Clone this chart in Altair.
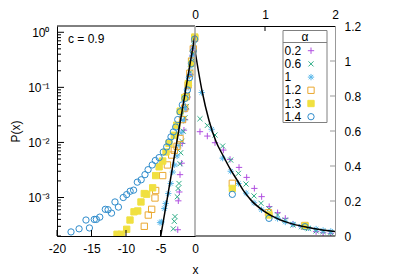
import altair as alt
import pandas as pd

FONT = "Liberation Sans"
W_L, W_R, H = 138, 140, 210
W = W_L + W_R

ALPHAS = ["0.2", "0.6", "1", "1.2", "1.3", "1.4"]
COLORS = ["#b050e0", "#30ae88", "#5ab8ea", "#eaa830", "#f0e040", "#2f8ccc"]
FILLS = ["transparent", "transparent", "transparent", "transparent", "#f0e040", "transparent"]
PLUS = "M-1,0L1,0M0,-1L0,1"
CROSS = "M-0.8,-0.8L0.8,0.8M-0.8,0.8L0.8,-0.8"
STAR = "M-1,0L1,0M0,-1L0,1M-0.7,-0.7L0.7,0.7M-0.7,0.7L0.7,-0.7"
SHAPES = [PLUS, CROSS, STAR, "square", "square", "circle"]

# ---- left panel (x < 0, log scale) ----
L02_x = [-0.03, -0.1, -0.2, -0.35, -0.5, -0.7, -0.9, -1.1, -1.3, -1.45, -1.6, -1.85, -1.93, -2.17, -2.27, -2.42, -2.5]
L02_p = [0.82, 0.68, 0.52, 0.38, 0.27, 0.17, 0.105, 0.065, 0.04, 0.026, 0.0167, 0.0096, 0.0042, 0.0026, 0.00126, 0.00087, 0.00026]
L06_x = [-0.05, -0.15, -0.3, -0.45, -0.65, -0.85, -1.05, -1.25, -1.45, -1.7, -1.9, -2.07, -2.17, -2.32, -2.45, -2.57, -2.9, -3.0, -3.14]
L06_p = [0.78, 0.6, 0.42, 0.3, 0.19, 0.12, 0.075, 0.045, 0.028, 0.016, 0.0105, 0.0065, 0.0041, 0.0018, 0.00146, 0.00103, 0.00045, 0.00037, 0.00027]
L10_x = [-0.05, -0.2, -0.4, -0.6, -0.8, -1.0, -1.2, -1.45, -1.7, -2.0, -2.3, -2.6, -2.95, -3.23, -3.52, -3.87, -4.25, -4.45, -4.83, -5.07]
L10_p = [0.8, 0.55, 0.36, 0.24, 0.16, 0.1, 0.065, 0.04, 0.025, 0.015, 0.0088, 0.0057, 0.0039, 0.0029, 0.0018, 0.00118, 0.00078, 0.00063, 0.00036, 0.00035]
L12_x = [-0.05, -0.25, -0.5, -0.75, -1.0, -1.25, -1.5, -1.8, -2.17, -2.6, -3.0, -3.38, -4.0, -4.68, -5.7, -5.8, -6.28, -6.77, -7.35]
L12_p = [0.78, 0.5, 0.3, 0.18, 0.11, 0.068, 0.042, 0.026, 0.0118, 0.0085, 0.0072, 0.0059, 0.0039, 0.0025, 0.00134, 0.00098, 0.00061, 0.00048, 0.0003]
L13_x = [-0.03, -0.48, -0.97, -1.5, -2.15, -2.65, -3.0, -3.77, -4.2, -4.68, -5.2, -5.7, -6.14, -7.0, -7.35, -7.83, -8.3, -8.84, -9.42, -9.9, -10.7, -11.3]
L13_p = [0.82, 0.27, 0.117, 0.065, 0.037, 0.0206, 0.0135, 0.0096, 0.0067, 0.0046, 0.0036, 0.0025, 0.0015, 0.00115, 0.00118, 0.00083, 0.00057, 0.00055, 0.00039, 0.000265, 0.000215, 0.000215]
L14_x = [-0.05, -0.25, -0.5, -0.8, -1.1, -1.45, -1.84, -2.17, -2.5, -2.8, -3.14, -3.48, -3.77, -4.1, -4.6, -5.2, -5.75, -6.2, -6.8, -7.25, -7.8, -8.36, -8.9, -9.4, -9.9, -10.4, -11.1, -11.6, -12.1, -12.6, -13.0, -13.8, -14.3, -14.6, -15.3, -15.8, -16.8, -17.97]
L14_p = [0.75, 0.45, 0.27, 0.15, 0.09, 0.063, 0.048, 0.036, 0.026, 0.019, 0.0155, 0.0126, 0.0102, 0.0083, 0.0067, 0.0053, 0.0047, 0.0039, 0.0032, 0.0026, 0.0021, 0.0019, 0.00136, 0.0013, 0.00113, 0.001, 0.00067, 0.00083, 0.00052, 0.0006, 0.00061, 0.00044, 0.0004, 0.0004, 0.00028, 0.00039, 0.00027, 0.000237]

TH_L_x = [0, -1, -2, -3, -4, -5.1]
TH_L_p = [0.9, 0.165, 0.030, 0.0055, 0.0010, 0.00016]

# ---- right panel (x > 0, linear scale) ----
R02_x = [0.071, 0.176, 0.286, 0.405, 0.5, 0.629, 0.738, 0.848, 0.952, 1.06, 1.18, 1.29, 1.40, 1.52, 1.62, 1.73, 1.83, 1.94]
R02_p = [0.596, 0.571, 0.533, 0.491, 0.438, 0.392, 0.335, 0.272, 0.225, 0.168, 0.133, 0.101, 0.067, 0.053, 0.047, 0.025, 0.019, 0.015]
R06_x = [0.071, 0.176, 0.286, 0.395, 0.51, 0.62, 0.729, 0.843, 0.943, 1.06, 1.18, 1.29, 1.40, 1.52, 1.62, 1.73, 1.83, 1.94]
R06_p = [0.67, 0.632, 0.577, 0.514, 0.434, 0.358, 0.297, 0.229, 0.187, 0.154, 0.12, 0.091, 0.063, 0.053, 0.042, 0.029, 0.025, 0.019]
R10_x = [0.095, 0.238, 0.395, 0.51, 0.62, 0.73, 0.843, 0.95, 1.06, 1.18, 1.29, 1.40, 1.52, 1.62, 1.73, 1.83, 1.94]
R10_p = [0.82, 0.61, 0.445, 0.37, 0.3, 0.245, 0.19, 0.15, 0.125, 0.1, 0.08, 0.068, 0.055, 0.047, 0.04, 0.032, 0.027]
R12_x = [0.533, 1.05, 1.57]
R12_p = [0.301, 0.133, 0.06]
R13_x = [0.533, 1.057, 1.571]
R13_p = [0.272, 0.12, 0.057]
R14_x = [0.533, 1.057, 1.571]
R14_p = [0.238, 0.101, 0.053]

TH_R_x = [0, 0.1, 0.2, 0.3, 0.4, 0.5, 0.6, 0.7, 0.8, 1.0, 1.2, 1.4, 1.6, 1.8, 2.0]
TH_R_p = [1.06, 0.83, 0.66, 0.54, 0.46, 0.385, 0.32, 0.255, 0.205, 0.138, 0.095, 0.068, 0.05, 0.036, 0.025]

# axis tick values
XT_L = [-20, -15, -10, -5, 0]
YT_L = [1, 0.1, 0.01, 0.001]
YT_L_MINOR = [m * 10.0 ** e for e in (-4, -3, -2, -1) for m in range(2, 10) if 2e-4 <= m * 10.0 ** e <= 1.3]
XT_R = [0, 1, 2]
YT_R = [0, 0.2, 0.4, 0.6, 0.8, 1, 1.2]
C_LABEL = "c = 0.9"
LEG_TITLE = "α"


def frame(xs_list, ps_list):
    rows = []
    for a, xs, ps in zip(ALPHAS, xs_list, ps_list):
        rows += [{"alpha": a, "x": x, "P": p} for x, p in zip(xs, ps)]
    return pd.DataFrame(rows)


left_df = frame([L02_x, L06_x, L10_x, L12_x, L13_x, L14_x], [L02_p, L06_p, L10_p, L12_p, L13_p, L14_p])
right_df = frame([R02_x, R06_x, R10_x, R12_x, R13_x, R14_x], [R02_p, R06_p, R10_p, R12_p, R13_p, R14_p])
thL = pd.DataFrame({"x": TH_L_x, "P": TH_L_p})
thR = pd.DataFrame({"x": TH_R_x, "P": TH_R_p})
one = pd.DataFrame({"k": [0]})

xL = alt.Scale(domain=[-20, 0], range=[0, W_L], nice=False, zero=False)
yL = alt.Scale(type="log", domain=[2e-4, 1.3], nice=False)
xR = alt.Scale(domain=[0, 2], range=[W_L, W], nice=False, zero=False)
yR = alt.Scale(domain=[0, 1.2], nice=False, zero=False)

sup_expr = ("datum.value > 0.5 ? '10⁰' : datum.value > 0.05 ? '10⁻¹' : "
            "datum.value > 0.005 ? '10⁻²' : '10⁻³'")

axL_x = alt.Axis(orient="bottom", values=XT_L, labelExpr="'' + datum.value", title="x",
                 titleX=W_L, titleY=37, titleBaseline="alphabetic",
                 ticks=False, domainColor="black", labelFlush=False,
                 labelPadding=7, grid=False)
axL_y = alt.Axis(orient="left", values=YT_L, labelExpr=sup_expr, title="P(x)", ticks=False,
                 domainColor="black", grid=False, labelPadding=8, titlePadding=5)
axR_x = alt.Axis(orient="top", values=XT_R, labelExpr="'' + datum.value", title=None, ticks=False,
                 domainColor="black", labelFlush=False, labelPadding=5, grid=False)
axR_y = alt.Axis(orient="right", values=YT_R, labelExpr="'' + datum.value", title=None,
                 ticks=False, domainColor="#999999", labelPadding=9, grid=False)

XL = lambda: alt.X("x:Q", scale=xL, axis=axL_x)
YL = lambda: alt.Y("P:Q", scale=yL, axis=axL_y)
XR = lambda: alt.X("x:Q", scale=xR, axis=axR_x)
YR = lambda: alt.Y("P:Q", scale=yR, axis=axR_y)

stroke_enc = alt.Stroke("alpha:N", scale=alt.Scale(domain=ALPHAS, range=COLORS), legend=None)
fill_enc = alt.Fill("alpha:N", scale=alt.Scale(domain=ALPHAS, range=FILLS), legend=None)
shape_enc = alt.Shape("alpha:N", scale=alt.Scale(domain=ALPHAS, range=SHAPES), legend=None)

# ---------------- left panel ----------------
left_pts = alt.Chart(left_df).mark_point(filled=False, size=40, strokeWidth=1, opacity=1, clip=True).encode(
    x=XL(), y=YL(), stroke=stroke_enc, fill=fill_enc, shape=shape_enc)
left_line = alt.Chart(thL).mark_line(color="black", strokeWidth=1.5, clip=True).encode(x=XL(), y=YL())
left_major = alt.Chart(pd.DataFrame({"P": YT_L})).mark_rule(color="black", strokeWidth=1).encode(
    y=YL(), x=alt.value(0), x2=alt.value(7))
left_minor = alt.Chart(pd.DataFrame({"P": YT_L_MINOR})).mark_rule(color="black", strokeWidth=1).encode(
    y=YL(), x=alt.value(0), x2=alt.value(4))
left_xt = alt.Chart(pd.DataFrame({"x": XT_L[:-1]})).mark_rule(color="black", strokeWidth=1).encode(
    x=XL(), y=alt.value(H), y2=alt.value(H - 6))
left_layer = alt.layer(left_pts, left_line, left_minor, left_major, left_xt)

# ---------------- right panel ----------------
right_pts = alt.Chart(right_df).mark_point(filled=False, size=40, strokeWidth=1, opacity=1, clip=True).encode(
    x=XR(), y=YR(), stroke=stroke_enc, fill=fill_enc, shape=shape_enc)
right_line = alt.Chart(thR).mark_line(color="black", strokeWidth=1.5, clip=True, interpolate="monotone").encode(
    x=XR(), y=YR())
right_yt = alt.Chart(pd.DataFrame({"P": YT_R[1:-1]})).mark_rule(color="#999999", strokeWidth=1).encode(
    y=YR(), x=alt.value(W - 5), x2=alt.value(W))
right_xt = alt.Chart(pd.DataFrame({"x": XT_R[1:-1]})).mark_rule(color="black", strokeWidth=1).encode(
    x=XR(), y=alt.value(0), y2=alt.value(5))
right_layer = alt.layer(right_pts, right_line, right_yt, right_xt)

# ---------------- frame, labels, legend ----------------
left_top = alt.Chart(one).mark_rule(color="black", strokeWidth=1).encode(
    x=alt.value(0), x2=alt.value(W_L), y=alt.value(0))
right_bottom = alt.Chart(one).mark_rule(color="black", strokeWidth=1).encode(
    x=alt.value(W_L), x2=alt.value(W), y=alt.value(H))
zero_line = alt.Chart(one).mark_rule(color="#a0a0a0", strokeWidth=1.5).encode(
    x=alt.value(W_L), y=alt.value(0), y2=alt.value(H))
c_text = alt.Chart(one).mark_text(align="left", baseline="middle", fontSize=12, text=C_LABEL).encode(
    x=alt.value(11), y=alt.value(13))

LX = W_L + 88
leg_df = pd.DataFrame({"alpha": ALPHAS})
leg_y = alt.Y("alpha:N", scale=alt.Scale(type="point", domain=ALPHAS, range=[24.7, 90.7], padding=0), axis=None)
leg_box = alt.Chart(one).mark_rect(fill="white", stroke="#808080", strokeWidth=1).encode(
    x=alt.value(LX), x2=alt.value(LX + 44), y=alt.value(4.5), y2=alt.value(96.5))
leg_sep = alt.Chart(one).mark_rule(color="#808080", strokeWidth=1).encode(
    x=alt.value(LX), x2=alt.value(LX + 44), y=alt.value(16.5))
leg_title = alt.Chart(one).mark_text(align="center", baseline="middle", fontSize=12, text=LEG_TITLE).encode(
    x=alt.value(LX + 22), y=alt.value(10.5))
leg_labels = alt.Chart(leg_df).mark_text(align="left", baseline="middle", fontSize=12).encode(
    text="alpha:N", x=alt.value(LX + 1.5), y=leg_y)
leg_syms = alt.Chart(leg_df).mark_point(filled=False, size=40, strokeWidth=1, opacity=1).encode(
    x=alt.value(LX + 28), y=leg_y, stroke=stroke_enc, fill=fill_enc, shape=shape_enc)
deco_layer = alt.layer(left_top, right_bottom, zero_line, c_text,
                       leg_box, leg_sep, leg_title, leg_labels, leg_syms)

chart = alt.layer(left_layer, right_layer, deco_layer).resolve_scale(
    x="independent", y="independent"
).properties(
    width=W, height=H,
    padding={"left": 49, "top": 18, "right": 50, "bottom": 42},
    autosize=alt.AutoSizeParams(type="none"),
).configure_view(
    stroke=None
).configure_axis(
    labelFont=FONT, titleFont=FONT, labelFontSize=12, titleFontSize=12,
    labelColor="black", titleColor="black", titleFontWeight="normal",
).configure_text(font=FONT, color="black")

chart.save("out.html", embed_options={"renderer": "svg", "actions": False})
